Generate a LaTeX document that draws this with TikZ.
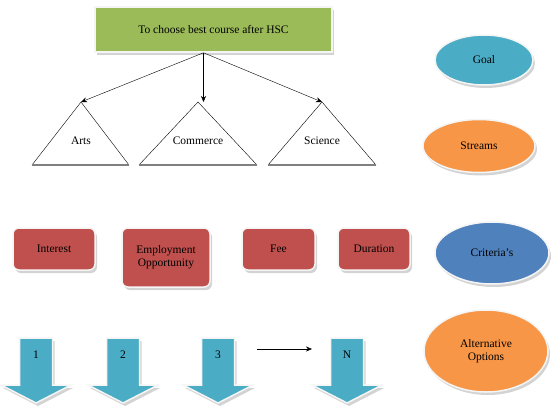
\documentclass[tikz,border=0pt]{standalone}
\usepackage{fontspec}
\setmainfont{Liberation Serif}
\definecolor{goalgreen}{HTML}{9BBB59}
\definecolor{critred}{HTML}{C0504D}
\definecolor{aquablue}{HTML}{4BACC6}
\definecolor{streamorange}{HTML}{F79646}
\definecolor{critblue}{HTML}{4F81BD}
\usetikzlibrary{arrows.meta, positioning, shapes, shadows, calc}

\begin{document}
\begin{tikzpicture}[x=1pt, y=-1pt, font=\fontsize{11.5}{13}\selectfont,
    shade3d/.style={draw=white!92!gray, line width=1.5pt,
      drop shadow={opacity=0.35, shadow xshift=2pt, shadow yshift=-3pt}},
    goalbox/.style={shade3d, fill=goalgreen, minimum width=237pt, minimum height=45pt},
    critbox/.style={shade3d, fill=critred, rounded corners=6pt, minimum height=42pt, align=center},
    legend/.style={ellipse, shade3d, align=center},
    optarrow/.style={shade3d, fill=aquablue},
    tip/.style={-{Stealth[length=6pt, width=5pt]}}
  ]
    \useasboundingbox (0,0) rectangle (552,408);
    % Goal
    \node[goalbox] (course) at (213.5,29.5) {To choose best course after HSC};
    \coordinate (fork) at ([xshift=-10pt]course.south);
    % Streams (triangles)
    \foreach \n/\l/\r/\t/\txt in {arts/32/129/81/Arts, commerce/139/257/198/Commerce, science/268/376/322/Science} {
      \draw[thin] (\l,165) -- (\t,102) coordinate (\n-top) -- (\r,165);
      \draw[gray, line width=2pt] (\l,165) -- (\r,165);
      \node (\n) at (\t,141) {\txt};
    }
    \draw[tip] (fork) -- (arts-top);
    \draw[tip] (fork) -- (fork |- commerce-top);
    \draw[tip] (fork) -- (science-top);
    % Criteria
    \node[critbox, minimum width=82pt] (interest) at (54,249) {Interest};
    \node[critbox, minimum width=88pt, minimum height=59pt] (employ) at (166,257.5) {Employment\\Opportunity};
    \node[critbox, minimum width=73pt] (fee) at (278.5,249) {Fee};
    \node[critbox, minimum width=72pt] (duration) at (374,249) {Duration};
    % Alternative options (down arrows)
    \foreach \n/\c/\txt in {opt1/36/1, opt2/123/2, opt3/218/3, optN/347/N} {
      \draw[optarrow] (\c-16.5,338) -- (\c+16.5,338) -- (\c+16.5,385) -- (\c+35,385)
        -- (\c,403) -- (\c-35,385) -- (\c-16.5,385) -- cycle;
      \node (\n) at (\c,355) {\txt};
    }
    \draw[tip] ($(opt3)+(39,-6)$) -- ($(optN)+(-35,-6)$);
    % Legend ellipses
    \node[legend, fill=aquablue, minimum width=98pt, minimum height=50pt] (goal) at (484,60) {Goal};
    \node[legend, fill=streamorange, minimum width=112pt, minimum height=53pt] (streams) at (479,146) {Streams};
    \node[legend, fill=critblue, minimum width=114pt, minimum height=62pt] (criteria) at (492,253) {Criteria's};
    \node[legend, fill=streamorange, minimum width=124pt, minimum height=82pt] (options) at (486,351) {Alternative\\Options};
\end{tikzpicture}
\end{document}
